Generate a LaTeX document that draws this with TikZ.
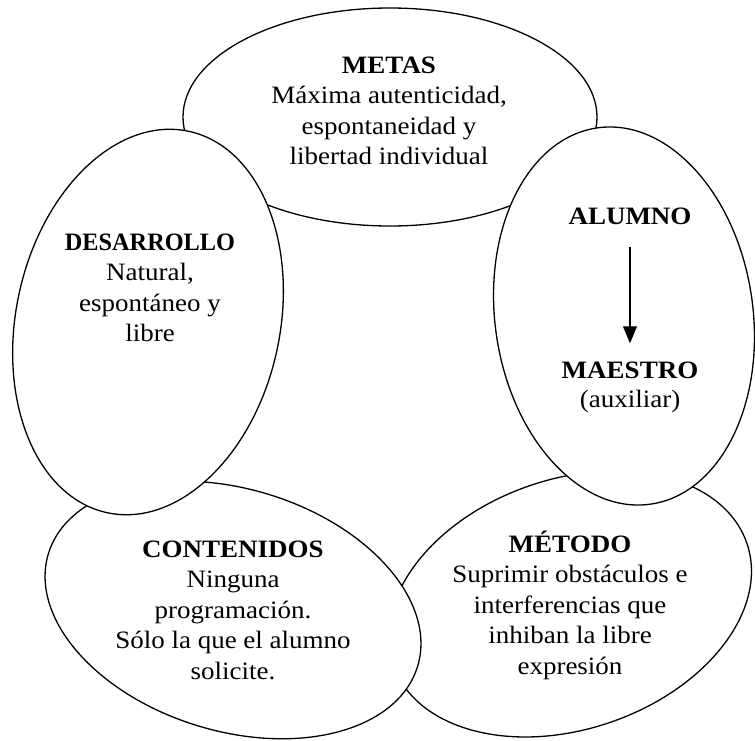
\documentclass[tikz,border=0pt]{standalone}
\usepackage{fontspec}
\usepackage{graphicx}
\setmainfont{Liberation Serif}[FakeStretch=1.08]
\usetikzlibrary{shapes.geometric,arrows.meta}
\tikzset{
  ell/.style={ellipse, draw=black, fill=white, line width=1.3pt, inner sep=0pt, outer sep=0pt},
  txt/.style={align=center, inner sep=0pt, font=\fontsize{25}{30.5}\selectfont, anchor=base},
  arr/.style={-{Triangle[length=17pt,width=14pt]}, line width=1.1pt}
}
\begin{document}
\begin{tikzpicture}[x=1pt,y=-1pt]
\useasboundingbox (0,0) rectangle (755,740);
% ellipses (bottom to top)
\node[ell, minimum width=414pt, minimum height=218pt] (metasE) at (390,117) {};
\node[ell, minimum width=374pt, minimum height=250pt, rotate=19] (metodoE) at (570,604) {};
\node[ell, minimum width=386pt, minimum height=242pt, rotate=-17] (contE) at (233,610) {};
\node[ell, minimum width=264pt, minimum height=390pt, rotate=-12] (desE) at (148,322) {};
\node[ell, minimum width=258pt, minimum height=380pt, rotate=8] (alumE) at (624,316) {};
% texts (base anchor = baseline of the last line)
\node[txt] (metas) at (389,164.5) {\textbf{METAS}\\Máxima autenticidad,\\espontaneidad y\\libertad individual};
\node[txt] (des) at (150,341.5) {\scalebox{0.9}[1]{\textbf{DESARROLLO}}\\Natural,\\espontáneo y\\libre};
\node[txt] (alumno) at (630,224) {\textbf{ALUMNO}};
\node[txt] (maestro) at (630,378) {\textbf{MAESTRO}};
\node[txt] (aux) at (630,407) {(auxiliar)};
\node[txt] (cont) at (233,679) {\textbf{CONTENIDOS}\\Ninguna\\programación.\\Sólo la que el alumno\\solicite.};
\node[txt] (metodo) at (570,674) {\textbf{MÉTODO}\\Suprimir obstáculos e\\interferencias que\\inhiban la libre\\expresión};
\draw[arr, shorten <=23pt, shorten >=18pt] (alumno.south) -- (maestro.north);
\end{tikzpicture}
\end{document}
